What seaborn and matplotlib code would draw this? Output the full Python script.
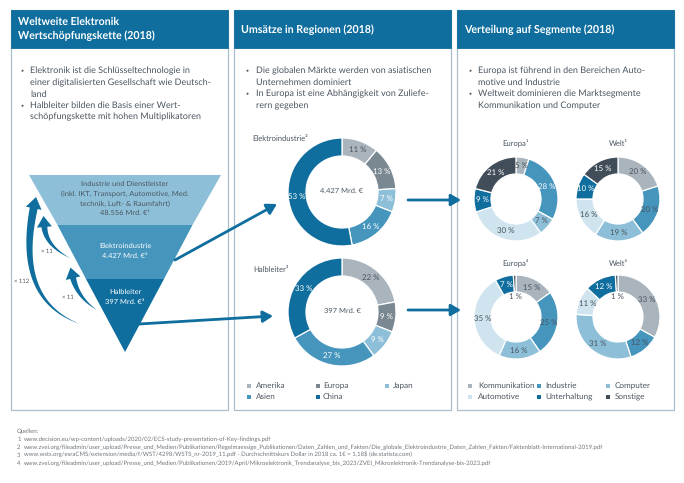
import numpy as np
import matplotlib
matplotlib.use("Agg")
import matplotlib.pyplot as plt
from matplotlib.patches import Polygon, Rectangle
import seaborn as sns

W, H = 684, 483

# values, clockwise from 12 o'clock
regions = ["Amerika", "Europa", "Japan", "Asien", "China"]
elektro_values = [11, 13, 7, 16, 53]
halbleiter_values = [22, 9, 9, 27, 33]

segments = ["Kommunikation", "Industrie", "Computer", "Automotive", "Unterhaltung", "Sonstige"]
europa_2018_values = [5, 28, 7, 30, 9, 21]
welt_2018_values = [20, 20, 19, 16, 10, 15]
europa_2023_values = [15, 25, 16, 35, 7, 1]
welt_2023_values = [33, 12, 31, 11, 12, 1]

sources = [
    "www.decision.eu/wp-content/uploads/2020/02/ECS-study-presentation-of-Key-findings.pdf",
    "www.zvei.org/fileadmin/user_upload/Presse_und_Medien/Publikationen/Regelmaessige_Publikationen/Daten_Zahlen_und_Fakten/Die_globale_Elektroindustrie_Daten_Zahlen_Fakten/Faktenblatt-International-2019.pdf",
    "www.wsts.org/esraCMS/extension/media/f/WST/4298/WSTS_nr-2019_11.pdf - Durchschnittskurs Dollar in 2018 ca. 1€ = 1,18$ (de.statista.com)",
    "www.zvei.org/fileadmin/user_upload/Presse_und_Medien/Publikationen/2019/April/Mikroelektronik_Trendanalyse_bis_2023/ZVEI_Mikroelektronik-Trendanalyse-bis-2023.pdf",
]

BLUE = "#0F6E9E"
BORDER = "#A9BFCF"
TEXT = "#4A5560"
GREY = "#A9B4BC"
SLATE = "#7A8891"
LIGHT = "#8DC0D8"
MID = "#4595BD"
PALE = "#CFE4EE"
DARK = "#414E5A"

sns.set_theme(style="white")
plt.rcParams["font.family"] = ["Lato", "DejaVu Sans"]
plt.rcParams["text.hinting"] = "no_hinting"

region_palette = sns.color_palette([GREY, SLATE, LIGHT, MID, BLUE])
segment_palette = sns.color_palette([GREY, MID, LIGHT, PALE, BLUE, DARK])

fig = plt.figure(figsize=(W / 100, H / 100), dpi=100, facecolor="white")
bg = fig.add_axes([0, 0, 1, 1])
bg.set_xlim(0, W)
bg.set_ylim(H, 0)
bg.axis("off")


def draw_panel(x0, x1, title_lines, title_x):
    bg.add_patch(Rectangle((x0, 10), x1 - x0, 400, fc="white", ec=BORDER, lw=0.9))
    bg.add_patch(Rectangle((x0, 10), x1 - x0, 38, fc=BLUE, ec=BLUE, lw=0.6))
    ys = [22, 36] if len(title_lines) == 2 else [30]
    for y, line in zip(ys, title_lines):
        bg.text(title_x, y, line, color="white", fontsize=7.7, fontweight="bold", va="center")


def draw_bullets(x_dot, x_text, lines, dots):
    for i, line in enumerate(lines):
        y = 71 + i * 11.55
        bg.text(x_text, y, line, color=TEXT, fontsize=6.5, va="center")
        if i in dots:
            bg.text(x_dot, y, "·", color=TEXT, fontsize=8, fontweight="bold", va="center", ha="center")


def draw_donut(cx, cy, r, r_in, values, palette, white_idx, center=None, inner_idx=()):
    ax = fig.add_axes([(cx - r) / W, 1 - (cy + r) / H, 2 * r / W, 2 * r / H])
    dist = (r + r_in) / 2 / r
    _, _, autotexts = ax.pie(
        values, colors=palette, startangle=90, counterclock=False, radius=1,
        autopct="%d", pctdistance=dist,
        wedgeprops={"width": 1 - r_in / r, "edgecolor": "white", "linewidth": 0.9},
    )
    ax.set_xlim(-1, 1)
    ax.set_ylim(-1, 1)
    for i, (t, v) in enumerate(zip(autotexts, values)):
        t.set_text(f"{v} %")
        t.set_fontsize(5.7)
        t.set_color("white" if i in white_idx else TEXT)
        if i in inner_idx:
            px, py = t.get_position()
            t.set_position((px * 0.6, py * 0.6))
    if center:
        ax.text(0, 0.02, center, ha="center", va="center", color=TEXT, fontsize=5.4)


def curved_arrow(tail, ctrl, tip, width, head_w, head_len):
    tail, ctrl, tip = np.array(tail, float), np.array(ctrl, float), np.array(tip, float)
    t = np.linspace(0, 1, 40)[:, None]
    # stop the tapering body where the head starts
    direction = (tip - ctrl) / np.linalg.norm(tip - ctrl)
    end = tip - direction * head_len
    curve = (1 - t) ** 2 * tail + 2 * t * (1 - t) * ctrl + t ** 2 * end
    grad = np.gradient(curve, axis=0)
    normal = np.c_[-grad[:, 1], grad[:, 0]] / np.linalg.norm(grad, axis=1)[:, None]
    half = width / 2 * t
    left = curve + normal * half
    right = curve - normal * half
    side = np.array([-direction[1], direction[0]])
    head = [end + side * head_w / 2, tip, end - side * head_w / 2]
    bg.add_patch(Polygon(np.vstack([left, head, right[::-1]]), fc=BLUE, ec="none"))


def straight_arrow(start, tip, lw=2.0, head=9.5):
    bg.annotate(
        "", xy=tip, xytext=start,
        arrowprops=dict(arrowstyle=f"-|>,head_length={head / 10 * 0.62},head_width={head / 10 * 0.36}",
                        color=BLUE, lw=lw, shrinkA=0, shrinkB=0, mutation_scale=10),
    )


def draw_legend(names, palette, dot_xs, text_xs, order):
    for name, color, (col, row) in zip(names, palette, order):
        y = 386 + row * 11
        bg.scatter(dot_xs[col], y, marker="s", s=10, color=color, linewidths=0)
        bg.text(text_xs[col], y, name, color=TEXT, fontsize=5.9, va="center")


# panels
draw_panel(11, 228, ["Weltweite Elektronik", "Wertschöpfungskette (2018)"], 18)
draw_panel(234, 451, ["Umsätze in Regionen (2018)"], 241)
draw_panel(457, 674, ["Verteilung auf Segmente (2018)"], 464)

draw_bullets(22, 30, [
    "Elektronik ist die Schlüsseltechnologie in",
    "einer digitalisierten Gesellschaft wie Deutsch-",
    "land",
    "Halbleiter bilden die Basis einer Wert-",
    "schöpfungskette mit hohen Multiplikatoren",
], {0, 3})
draw_bullets(247, 256, [
    "Die globalen Märkte werden von asiatischen",
    "Unternehmen dominiert",
    "In Europa ist eine Abhängigkeit von Zuliefe-",
    "rern gegeben",
], {0, 2})
draw_bullets(470, 478, [
    "Europa ist führend in den Bereichen Auto-",
    "motive und Industrie",
    "Weltweit dominieren die Marktsegmente",
    "Kommunikation und Computer",
], {0, 2})

# funnel
bg.add_patch(Polygon([(29, 175), (221, 175), (192.5, 225), (57.5, 225)], fc=LIGHT, ec="none"))
bg.add_patch(Polygon([(57.5, 225), (192.5, 225), (164, 279), (86, 279)], fc=MID, ec="none"))
bg.add_patch(Polygon([(86, 279), (164, 279), (125, 352)], fc=BLUE, ec="none"))

funnel_top = ["Industrie und Dienstleister", "(inkl. IKT, Transport, Automotive, Med.",
              "technik, Luft- & Raumfahrt)", "48.556 Mrd. €¹"]
for y, line in zip([184, 194, 204, 213], funnel_top):
    bg.text(125, y, line, color=TEXT, fontsize=5.4, ha="center", va="center")
for y, line in zip([246, 256], ["Elektroindustrie", "4.427 Mrd. €²"]):
    bg.text(125, y, line, color="white", fontsize=5.4, ha="center", va="center")
for y, line in zip([292, 302], ["Halbleiter", "397 Mrd. €³"]):
    bg.text(125, y, line, color="white", fontsize=5.4, ha="center", va="center")

curved_arrow((80, 324), (15, 300), (36, 197), 8, 16, 11.5)
curved_arrow((70, 258), (46, 246), (43.5, 216), 6, 15, 11)
curved_arrow((97, 310), (78, 298), (70.5, 267.5), 6, 15, 11)
for x, y, label in [(22, 281, "× 112"), (47, 251, "× 11"), (68, 297, "× 11")]:
    bg.text(x, y, label, color=TEXT, fontsize=4.2, ha="center", va="center")

straight_arrow((175, 260), (277, 204))
straight_arrow((139, 324), (273, 316))
straight_arrow((408, 200), (461, 200))
straight_arrow((408, 310), (461, 310))

# region donuts
draw_donut(342, 192, 54, 36, elektro_values, region_palette, {1, 2, 3, 4}, "4.427 Mrd. €")
draw_donut(342, 312, 54, 36, halbleiter_values, region_palette, {1, 2, 3, 4}, "397 Mrd. €")
bg.text(252, 140, "Elektroindustrie²", color=TEXT, fontsize=5.5, va="center")
bg.text(253, 271, "Halbleiter³", color=TEXT, fontsize=5.5, va="center")
draw_legend(regions, region_palette, [249, 318, 387], [256, 323, 393],
            [(0, 0), (1, 0), (2, 0), (0, 1), (1, 1)])

# segment donuts
draw_donut(516, 199, 42, 25, europa_2018_values, segment_palette, {1, 4, 5})
draw_donut(618, 199, 42, 25, welt_2018_values, segment_palette, {4, 5})
draw_donut(516, 317, 42, 25, europa_2023_values, segment_palette, {4}, inner_idx={5})
draw_donut(618, 317, 42, 25, welt_2023_values, segment_palette, {4}, inner_idx={5})
for x, y, label in [(515, 144, "Europa¹"), (618, 144, "Welt¹"), (515, 264, "Europa⁴"), (618, 264, "Welt⁴")]:
    bg.text(x, y, label, color=TEXT, fontsize=5.5, ha="center", va="center")
draw_legend(segments, segment_palette, [470, 539, 608], [478, 545, 615],
            [(0, 0), (1, 0), (2, 0), (0, 1), (1, 1), (2, 1)])

# sources
bg.text(17, 431, "Quellen:", color="#6F767C", fontsize=4.3, va="center")
for i, src in enumerate(sources):
    y = 439.5 + i * 7.8
    bg.text(17, y, str(i + 1), color="#6F767C", fontsize=4.3, va="center")
    bg.text(23.5, y, src, color="#6F767C", fontsize=4.3, va="center")

fig.savefig("out.png", dpi=100)
